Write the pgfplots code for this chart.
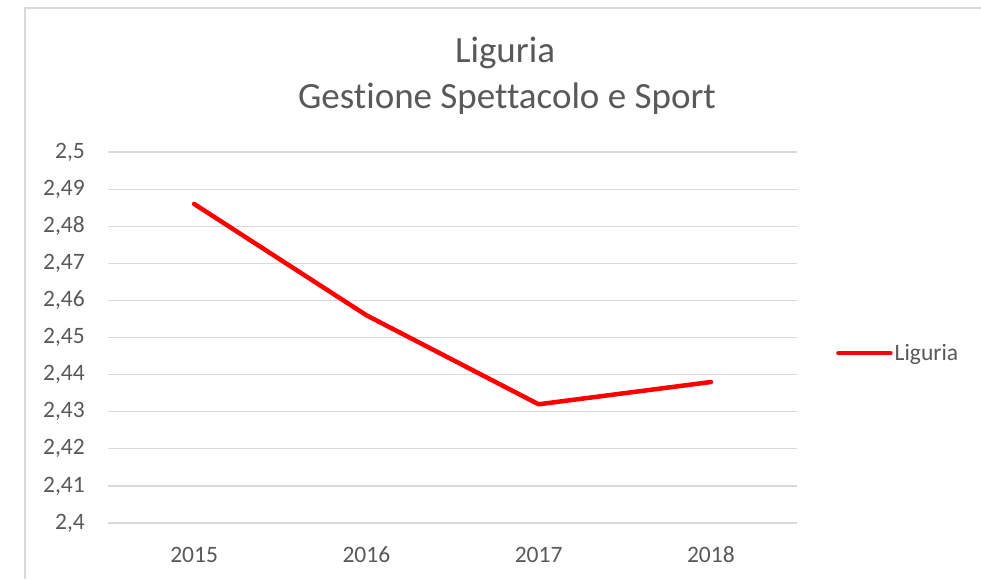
\documentclass[border=0pt]{standalone}
\usepackage{pgfplots}
\pgfplotsset{compat=1.18}
\usepackage{fontspec}
\setmainfont{Carlito}[Ligatures={NoCommon}]
\definecolor{txt}{HTML}{595959}
\definecolor{grd}{HTML}{D9D9D9}
\definecolor{frm}{HTML}{D9D9D9}
\begin{document}
\begin{tikzpicture}
\path[use as bounding box] (0,0) rectangle (981pt,579pt);
\fill[white] (0,0) rectangle (981pt,579pt);
\draw[frm, line width=1.5pt] (25pt,0pt) -- (25pt,571pt) -- (981pt,571pt);
\node[anchor=base, text=txt, font=\fontsize{37}{44}\selectfont] at (505pt,516pt) {Liguria};
\node[anchor=base, text=txt, font=\fontsize{37}{44}\selectfont] at (507pt,470pt) {Gestione Spettacolo e Sport};
\begin{axis}[
  at={(108pt,56pt)}, anchor=south west, scale only axis,
  width=689pt, height=371pt,
  xmin=-0.5, xmax=3.5, ymin=2.4, ymax=2.5,
  xtick={0,1,2,3}, xticklabels={2015,2016,2017,2018},
  ytick={2.4,2.41,2.42,2.43,2.44,2.45,2.46,2.47,2.48,2.49,2.5},
  yticklabels={{2,4},{2,41},{2,42},{2,43},{2,44},{2,45},{2,46},{2,47},{2,48},{2,49},{2,5}},
  ymajorgrids, grid style={grd, line width=1.2pt},
  axis line style={draw=none}, major tick length=0pt,
  tick label style={font=\fontsize{23.5}{27}\selectfont, text=txt, inner sep=0pt},
  xticklabel style={anchor=base, yshift=-39pt},
  yticklabel style={xshift=-23pt},
  clip=false,
  legend style={at={(1.0566,0.458)}, anchor=west, draw=none, fill=none, inner sep=0pt,
    font=\fontsize{23.5}{27}\selectfont, text=txt, nodes={inner sep=2pt}},
  legend cell align=left,
  legend image code/.code={\draw[#1, line width=4.5pt, line cap=round] (0pt,0pt) -- (52pt,0pt);},
]
\addplot[color=red, line width=4.5pt, line cap=round, line join=round] coordinates {(0,2.486) (1,2.456) (2,2.432) (3,2.438)};
\addlegendentry{Liguria}
\end{axis}
\end{tikzpicture}
\end{document}
